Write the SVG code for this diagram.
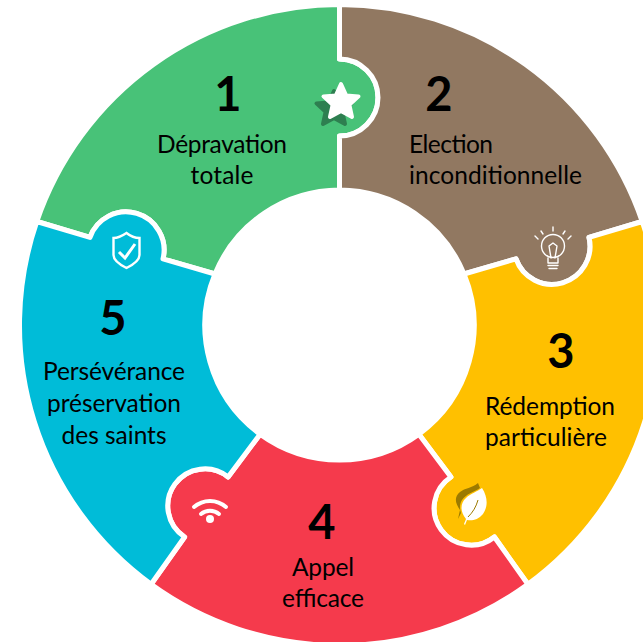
<svg xmlns="http://www.w3.org/2000/svg" width="643" height="642" viewBox="0 0 643 642">
<style>
.seg{stroke:#fff;stroke-width:5;stroke-linejoin:round}
.n{font-family:"Lato","Carlito","Liberation Sans",sans-serif;font-weight:700;font-size:47px;fill:#000;text-anchor:middle}
.t{font-family:"Lato","Carlito","Liberation Sans",sans-serif;font-size:24.500px;fill:#000}
.m{text-anchor:middle}
.ln{fill:none;stroke:#fff;stroke-linecap:round;stroke-linejoin:round}
</style>
<defs>
<polygon id="star" points="0,-17 5.2,-5.4 17.5,-4.6 8.4,3.8 11,16 0,10 -11,16 -8.4,3.8 -17.5,-4.6 -5.2,-5.4" stroke-width="4" stroke-linejoin="round"/>
</defs>
<g id="node-1">
<path class="seg" fill="#48C278" d="M339.5 190V136A38.500 38.500 0 0 0 339.500 59V4.500A320.500 320.500 0 0 0 36.800 221.500L90 237.400A38.100 38.100 0 0 1 163 258.900L215 274A135 135 0 0 1 339.500 190Z"/>
<use href="#star" fill="#2E7F50" stroke="#2E7F50" transform="translate(334 108)"/>
<use href="#star" fill="#fff" stroke="#fff" transform="translate(341 101)"/>
<text class="n" x="228" y="111">1</text>
<text class="t m" x="222" y="153" textLength="130">Dépravation</text>
<text class="t m" x="222" y="184" textLength="63">totale</text>
</g>
<g id="node-2">
<path class="seg" fill="#917861" d="M339.5 4.500A320.500 320.500 0 0 1 642.200 221.500L589 237.400A38.100 38.100 0 0 1 516 258.900L464 274A135 135 0 0 0 339.500 190V136A38.500 38.500 0 0 0 339.500 59Z"/>
<g class="ln" stroke-width="1.4">
<circle cx="553" cy="246" r="11.500"/>
<path d="M548 258V263H558V258M548 265.500H558M549 268.500H557M551 258L549 246L553 243L557 246L555 258M553 231V227M543 234L541 231M563 234L565 231M538 239L535 236M568 239L571 236"/>
</g>
<text class="n" x="439" y="111">2</text>
<text class="t" x="409" y="153" textLength="84">Election</text>
<text class="t" x="409" y="184" textLength="173">inconditionnelle</text>
</g>
<g id="node-3">
<path class="seg" fill="#FFC000" d="M642.2 221.500A320.500 320.500 0 0 1 527.900 584.300L494.400 537A37.100 37.100 0 1 1 450.900 477L418.900 434.200A135 135 0 0 0 464 274L516 258.900A38.100 38.100 0 0 0 589 237.400Z"/>
<path d="M478 483L480 488C474 492 466 494 462 500C459 505 460 510 461 513L458 519L460 510C455 503 454 497 460 492C465 488 472 488 478 483Z" fill="#9C7A00"/>
<path d="M464 524L466 519C460 512 460 503 466 498C471 493 477 492 482 488C488 497 488 507 483 514C478 520 472 521 467 520L465 525Z" fill="#fff"/>
<path d="M468 517C473 512 476 507 478 500" fill="none" stroke="#9C7A00" stroke-width="1"/>
<text class="n" x="561" y="368">3</text>
<text class="t" x="485" y="415" textLength="130">Rédemption</text>
<text class="t" x="485" y="446" textLength="122">particulière</text>
</g>
<g id="node-4">
<path class="seg" fill="#F53A4C" d="M527.9 584.300A320.500 320.500 0 0 1 151.100 584.300L184.600 537A37.100 37.100 0 1 1 228.100 477L260.100 434.200A135 135 0 0 0 418.900 434.200L450.900 477A37.100 37.100 0 1 0 494.400 537Z"/>
<g class="ln" stroke-width="4">
<path d="M194 507A24 24 0 0 1 226 507"/>
<path d="M201 514A14 14 0 0 1 219 514"/>
</g>
<circle cx="210" cy="519" r="4" fill="#fff"/>
<text class="n" x="322" y="539">4</text>
<text class="t m" x="323" y="576" textLength="62">Appel</text>
<text class="t m" x="323" y="607" textLength="82">efficace</text>
</g>
<g id="node-5">
<path class="seg" fill="#00BCD8" d="M151.1 584.300A320.500 320.500 0 0 1 36.800 221.500L90 237.400A38.100 38.100 0 0 1 163 258.900L215 274A135 135 0 0 0 260.100 434.200L228.100 477A37.100 37.100 0 1 0 184.600 537Z"/>
<path d="M126.500 233C120.500 237 117.500 238 113.500 238V255C113.500 261 120.500 265 126.500 268C132.500 265 139.500 261 139.500 255V238C135.500 238 131.500 237 126.500 233Z" fill="none" stroke="#fff" stroke-width="2.400"/>
<path d="M119 252L125 258L135 244" fill="none" stroke="#fff" stroke-width="3"/>
<text class="n" x="113" y="335">5</text>
<text class="t m" x="114" y="380" textLength="142">Persévérance</text>
<text class="t m" x="114" y="412" textLength="134">préservation</text>
<text class="t m" x="114" y="444" textLength="105">des saints</text>
</g>
<g id="connectors"></g>
</svg>
